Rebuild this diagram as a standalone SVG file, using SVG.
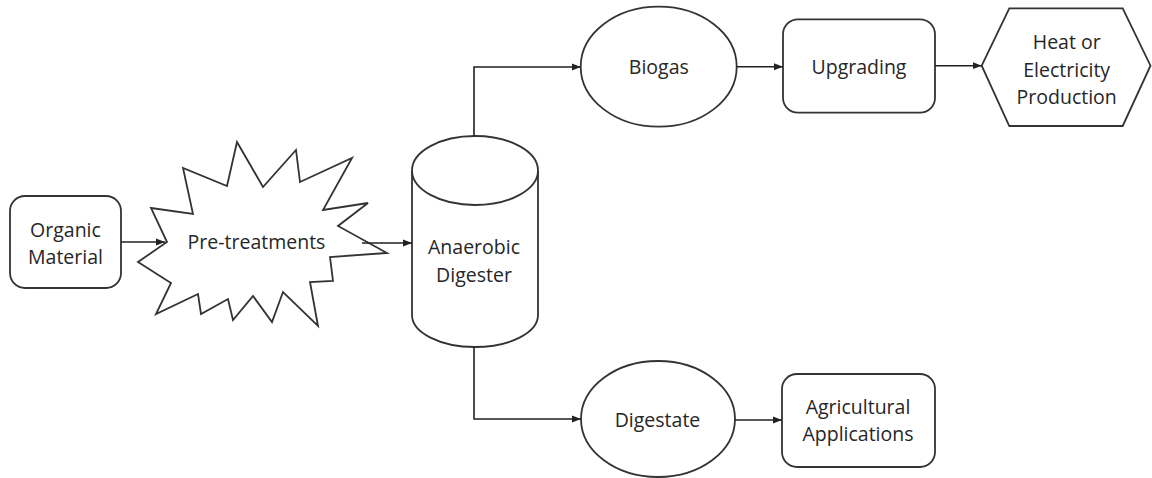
<svg xmlns="http://www.w3.org/2000/svg" width="1152" height="478" viewBox="0 0 1152 478">
<style>
.s{fill:#fff;stroke:#333;stroke-width:1.8;stroke-linejoin:miter}
.t{font-family:"Open Sans","Noto Sans",sans-serif;font-size:19.5px;fill:#262626;text-anchor:middle}
.c{fill:none;stroke:#222;stroke-width:1.6}
</style>
<defs>
<marker id="ah" markerWidth="10" markerHeight="8" refX="9" refY="4" orient="auto" markerUnits="userSpaceOnUse">
<path d="M0,0.5 L9,4 L0,7.5 Z" fill="#222"/>
</marker>
</defs>
<rect width="1152" height="478" fill="#fff"/>
<g id="organic">
<rect class="s" x="10" y="196" width="111" height="92" rx="15"/>
<text class="t" x="65.5" y="237">Organic</text>
<text class="t" x="65.5" y="264">Material</text>
</g>
<g id="pretreatments">
<polygon class="s" points="237,142 263,187 296,150 300,182 352,158 323,210 368,203 338,226 387,253 330,257 333,281 310,282 318,326 283,292 272,322 253,296 233,320 228,299 201,314 198,294 156,314 171,283 138,262 167,242 151,208 193,214 183,168 227,186"/>
<text class="t" x="256.5" y="249">Pre-treatments</text>
</g>
<g id="digester">
<path class="s" d="M412,171 L412,315 A63,32 0 0 0 538,315 L538,171"/>
<ellipse class="s" cx="475" cy="170.5" rx="63" ry="34.5"/>
<text class="t" x="474" y="254">Anaerobic</text>
<text class="t" x="474" y="282">Digester</text>
</g>
<g id="biogas">
<ellipse class="s" cx="658.7" cy="66.7" rx="78" ry="60"/>
<text class="t" x="658.8" y="74">Biogas</text>
</g>
<g id="upgrading">
<rect class="s" x="783" y="19.3" width="152" height="93.4" rx="15"/>
<text class="t" x="859" y="74">Upgrading</text>
</g>
<g id="heat">
<polygon class="s" points="981.7,65.7 1009.3,8.3 1122.7,8.3 1150.5,65.7 1122.7,126 1009.3,126"/>
<text class="t" x="1066.7" y="49">Heat or</text>
<text class="t" x="1066.7" y="77">Electricity</text>
<text class="t" x="1066.7" y="104">Production</text>
</g>
<g id="digestate">
<ellipse class="s" cx="658" cy="419" rx="77" ry="58"/>
<text class="t" x="657.5" y="427">Digestate</text>
</g>
<g id="agricultural">
<rect class="s" x="782" y="374" width="153" height="93" rx="15"/>
<text class="t" x="858" y="414">Agricultural</text>
<text class="t" x="858" y="441">Applications</text>
</g>
<g id="connectors">
<line class="c" x1="121" y1="242" x2="165" y2="242" marker-end="url(#ah)"/>
<line class="c" x1="362" y1="243" x2="412" y2="243" marker-end="url(#ah)"/>
<polyline class="c" points="474,136 474,67 580.7,67" marker-end="url(#ah)"/>
<polyline class="c" points="474,347 474,419 581,419" marker-end="url(#ah)"/>
<line class="c" x1="736.7" y1="66.7" x2="783" y2="66.7" marker-end="url(#ah)"/>
<line class="c" x1="935" y1="65.7" x2="981.7" y2="65.7" marker-end="url(#ah)"/>
<line class="c" x1="735" y1="420" x2="782" y2="420" marker-end="url(#ah)"/>
</g>
</svg>
